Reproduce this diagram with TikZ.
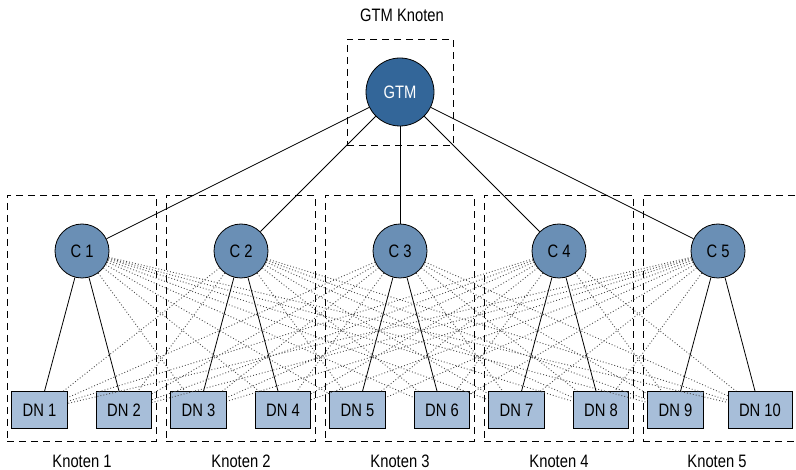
\documentclass[tikz,border=0pt]{standalone}
\usepackage{fontspec}
\setmainfont[FakeStretch=0.82]{Liberation Sans}
\definecolor{gtmblue}{HTML}{336699}
\definecolor{cblue}{HTML}{6A8FB5}
\definecolor{dnblue}{HTML}{A7BED9}
\begin{document}
\begin{tikzpicture}[x=1pt,y=-1pt,
  font=\fontsize{18}{21}\selectfont,
  gtmnode/.style={circle,draw,fill=gtmblue,minimum size=68pt,inner sep=0pt,text=white,line width=0.8pt},
  cnode/.style={circle,draw,fill=cblue,minimum size=54pt,inner sep=0pt,line width=0.8pt},
  dnnode/.style={rectangle,draw,fill=dnblue,minimum width=53pt,minimum height=37pt,inner xsep=11pt,inner ysep=3pt,line width=0.8pt},
  grp/.style={draw,dash pattern=on 7pt off 5pt,line width=0.9pt,rectangle,inner sep=0pt},
  lbl/.style={inner sep=0pt},
  solidlink/.style={line width=0.8pt},
  dotlink/.style={black!70,line width=0.9pt,dash pattern=on 0.9pt off 2.1pt},
]
\useasboundingbox (0,0) rectangle (796,470);
% group boxes
\node[grp,minimum width=106pt,minimum height=106pt] (gbox) at (400,92) {};
\node[lbl] (gtmlabel) at (402,15) {GTM Knoten};
\foreach \k in {0,...,3}{
  \pgfmathsetmacro{\bx}{81.5+159*\k}
  \pgfmathtruncatemacro{\n}{\k+1}
  \node[grp,minimum width=149pt,minimum height=246pt] (box\n) at (\bx,318) {};
  \node[lbl] (klabel\n) at (\bx+0.5,461.5) {Knoten \n};
}
\node[grp,minimum width=157pt,minimum height=246pt] (box5) at (721.5,318) {};
\node[lbl] (klabel5) at (717,461.5) {Knoten 5};
% nodes
\node[gtmnode] (gtm) at (400,92) {GTM};
\foreach \k in {0,...,4}{
  \pgfmathsetmacro{\cx}{82+159*\k}
  \pgfmathtruncatemacro{\n}{\k+1}
  \pgfmathtruncatemacro{\da}{2*\k+1}
  \pgfmathtruncatemacro{\db}{2*\k+2}
  \node[cnode] (c\n) at (\cx,251) {C \n};
  \node[dnnode] (dn\da) at (\cx-42.5,410) {DN \da};
  \node[dnnode] (dn\db) at (\cx+42,410) {DN \db};
}
% connectors
\foreach \n in {1,...,5}{
  \draw[solidlink] (gtm) -- (c\n);
  \pgfmathtruncatemacro{\da}{2*\n-1}
  \pgfmathtruncatemacro{\db}{2*\n}
  \draw[solidlink] (c\n) -- (dn\da);
  \draw[solidlink] (c\n) -- (dn\db);
  \foreach \d in {1,...,10}{
    \pgfmathtruncatemacro{\own}{(\d==\da)||(\d==\db)}
    \ifnum\own=0
      \draw[dotlink] (c\n) -- (dn\d);
    \fi
  }
}
\end{tikzpicture}
\end{document}
